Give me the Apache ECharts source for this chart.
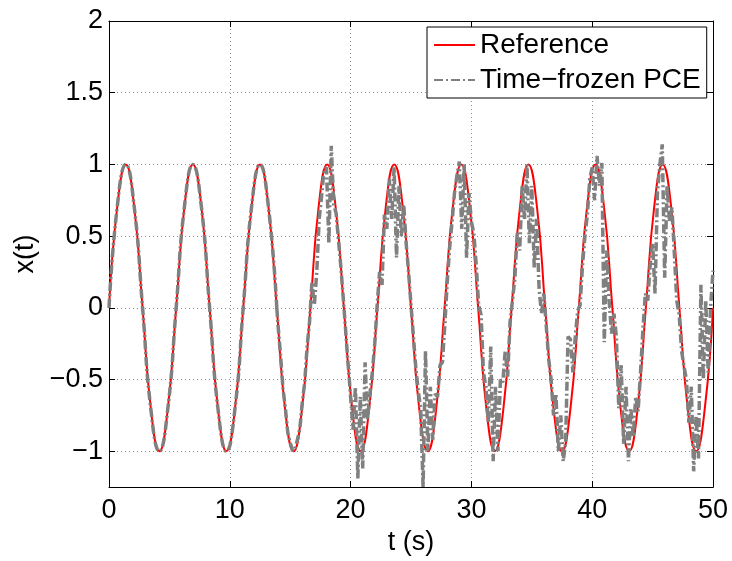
<!DOCTYPE html>
<html>
<head>
<meta charset="utf-8">
<script src="https://cdn.jsdelivr.net/npm/echarts@6/dist/echarts.min.js"></script>
<style>
html,body{margin:0;padding:0;background:#fff;}
#chart{width:732px;height:561px;}
</style>
</head>
<body>
<div id="chart"></div>
<script>
// ---- data ----
const seriesNames = ['Reference', 'Time\u2212frozen PCE'];
const xTicks = [0, 10, 20, 30, 40, 50];
const yTicks = [-1, -0.5, 0, 0.5, 1, 1.5, 2];

// Reference response (red), read at regular instants
const refT = [0, 0.69, 1.39, 2.08, 2.78, 3.47, 4.17, 4.86, 5.56, 6.25, 6.94, 7.64, 8.33, 9.03, 9.72, 10.42,
  11.11, 11.81, 12.5, 13.19, 13.89, 14.58, 15.28, 15.97, 16.67, 17.36, 18.06, 18.75, 19.44, 20.14, 20.83,
  21.53, 22.22, 22.92, 23.61, 24.31, 25.0, 25.69, 26.39, 27.08, 27.78, 28.47, 29.17, 29.86, 30.56, 31.25,
  31.94, 32.64, 33.33, 34.03, 34.72, 35.42, 36.11, 36.81, 37.5, 38.19, 38.89, 39.58, 40.28, 40.97, 41.67,
  42.36, 43.06, 43.75, 44.44, 45.14, 45.83, 46.53, 47.22, 47.92, 48.61, 49.31, 50.0];
const refX = [0, 0.71, 1, 0.71, 0, -0.71, -1, -0.71,
  0, 0.71, 1, 0.71, 0, -0.71, -1, -0.71,
  0, 0.71, 1, 0.71, 0, -0.71, -1, -0.71,
  0, 0.71, 1, 0.71, 0, -0.71, -1, -0.71,
  0, 0.71, 1, 0.71, 0, -0.71, -1, -0.71,
  0, 0.71, 1, 0.71, 0, -0.71, -1, -0.71,
  0, 0.71, 1, 0.71, 0, -0.71, -1, -0.71,
  0, 0.71, 1, 0.71, 0, -0.71, -1, -0.71,
  0, 0.71, 1, 0.71, 0, -0.71, -1, -0.71,
  0];

// Time-frozen PCE: identical to the reference up to t = 13.89 s
const pceEarlyT = [0, 0.69, 1.39, 2.08, 2.78, 3.47, 4.17, 4.86, 5.56, 6.25, 6.94, 7.64, 8.33, 9.03, 9.72,
  10.42, 11.11, 11.81, 12.5, 13.19, 13.89];
const pceEarlyX = [0, 0.71, 1, 0.71, 0, -0.71, -1, -0.71, 0, 0.71, 1, 0.71, 0, -0.71, -1, -0.71,
  0, 0.71, 1, 0.71, 0];

// Time-frozen PCE, sampled every 0.2 s from t = 14 s to 50 s
const pceStart = 14.0;
const pceStep = 0.2;
const pceX = [
  -0.13, -0.33, -0.56, -0.70, -0.87, -0.94, -1.00, -0.98, -0.92, -0.84,
  -0.66, -0.52, -0.27, -0.10, 0.18, 0.02, 0.25, 0.62, 0.78, 0.96,
  0.98, 0.45, 1.13, 0.72, 0.66, 0.47, 0.28, 0.06, -0.17, -0.40,
  -0.62, -0.85, -0.55, -1.19, -0.62, -1.12, -0.38, -0.78, -0.60, -0.45,
  -0.25, 0.02, 0.25, 0.16, 0.65, 0.55, 0.90, 0.62, 0.98, 0.35,
  0.85, 0.50, 0.72, 0.45, 0.25, 0.02, -0.20, -0.42, -0.58, -0.70,
  -1.25, -0.30, -1.00, -0.55, -0.92, -0.60, -0.62, -0.40, -0.38, -0.12,
  0.18, 0.42, 0.60, 0.80, 0.92, 1.02, 0.55, 1.00, 0.35, 0.80,
  0.60, 0.52, 0.30, 0.02, -0.05, -0.45, -0.55, -0.80, -0.27, -1.07,
  -0.55, -1.00, -0.50, -0.52, -0.30, -0.48, -0.10, 0.05, 0.21, 0.53,
  0.40, 0.85, 0.62, 1.00, 0.45, 0.85, 0.28, 0.62, 0.14, -0.04,
  0.10, -0.13, -0.36, -0.50, -0.75, -0.60, -1.00, -0.75, -1.07, -0.94,
  -0.20, -0.22, -0.45, -0.20, -0.02, 0.02, 0.30, 0.50, 0.65, 0.90,
  0.98, 0.75, 1.06, 0.85, 1.01, -0.24, 0.40, 0.05, -0.18, -0.04,
  -0.20, -0.70, -0.40, -0.95, -0.55, -1.07, -0.70, -0.90, -0.62, -0.72,
  -0.45, -0.15, 0.10, 0.05, 0.30, 0.45, 0.10, 0.80, 1.00, 1.14,
  0.21, 0.85, 0.60, 0.70, 0.38, 0.05, -0.05, -0.30, -0.41, -0.50,
  -0.80, -0.55, -1.14, -0.75, -1.05, 0.16, -0.50, 0.05, -0.45, 0.00,
  0.26
];

// ---- chart ----
const FONT = "'Liberation Sans', Arial, Helvetica, sans-serif";
const refData = refT.map((t, i) => [t, refX[i]]);
const earlyData = pceEarlyT.map((t, i) => [t, pceEarlyX[i]]);
const lateData = [[pceEarlyT[pceEarlyT.length - 1], pceEarlyX[pceEarlyX.length - 1]]]
  .concat(pceX.map((v, i) => [+(pceStart + i * pceStep).toFixed(2), v]));

const gridLine = { show: true, lineStyle: { color: '#8c8c8c', type: [1, 3], width: 1 } };
const fmt = v => yTicks.indexOf(v) >= 0 || xTicks.indexOf(v) >= 0 ? String(v).replace('-', '\u2212') : '';

const grayStyle = { color: '#808080', width: 3.5, type: [9, 3, 2, 3], cap: 'butt' };
const frameLine = { show: true, onZero: false, lineStyle: { color: '#000', width: 1 } };
const tickIn = { show: true, inside: true, length: 6, lineStyle: { color: '#000' } };

const chart = echarts.init(document.getElementById('chart'), null, { renderer: 'canvas' });
chart.setOption({
  animation: false,
  backgroundColor: '#fff',
  grid: { left: 109, right: 19, top: 21, bottom: 69, containLabel: false },
  legend: {
    data: seriesNames,
    orient: 'vertical',
    left: 427, top: 27,
    itemWidth: 41, itemHeight: 14, itemGap: 7,
    padding: [4, 6, 4, 6],
    backgroundColor: '#fff', borderColor: '#000', borderWidth: 1, borderRadius: 0,
    itemStyle: { opacity: 0 },
    textStyle: { fontSize: 28, color: '#000', fontFamily: FONT }
  },
  xAxis: [{
    type: 'value', min: 0, max: 50, interval: 10, position: 'bottom',
    name: 't (s)', nameLocation: 'middle', nameGap: 36,
    nameTextStyle: { fontSize: 27, color: '#000', fontFamily: FONT },
    axisLine: frameLine, axisTick: tickIn,
    axisLabel: { fontSize: 27, color: '#000', fontFamily: FONT, margin: 10, formatter: fmt },
    splitLine: gridLine
  }, {
    type: 'value', min: 0, max: 50, interval: 10, position: 'top',
    axisLine: frameLine, axisTick: tickIn,
    axisLabel: { show: false }, splitLine: { show: false }
  }],
  yAxis: [{
    type: 'value', min: -1.25, max: 2, minInterval: 0.5, maxInterval: 0.5, position: 'left',
    name: 'x(t)', nameLocation: 'middle', nameGap: 53,
    nameTextStyle: { fontSize: 27, color: '#000', fontFamily: FONT },
    axisLine: frameLine, axisTick: tickIn,
    axisLabel: { fontSize: 27, color: '#000', fontFamily: FONT, margin: 6, formatter: fmt, showMinLabel: false },
    splitLine: gridLine
  }, {
    type: 'value', min: -1.25, max: 2, minInterval: 0.5, maxInterval: 0.5, position: 'right',
    axisLine: frameLine, axisTick: tickIn,
    axisLabel: { show: false }, splitLine: { show: false }
  }],
  series: [{
    name: seriesNames[0], type: 'line', data: refData, smooth: 0.5, showSymbol: false, symbol: 'none',
    lineStyle: { color: '#ff0000', width: 2 }, itemStyle: { color: '#ff0000' }, z: 2
  }, {
    name: seriesNames[1], type: 'line', data: earlyData, smooth: 0.5, showSymbol: false, symbol: 'none',
    lineStyle: grayStyle, itemStyle: { color: '#808080' }, z: 3
  }, {
    name: seriesNames[1], type: 'line', data: lateData, smooth: false, showSymbol: false, symbol: 'none',
    lineStyle: grayStyle, itemStyle: { color: '#808080' }, z: 3, clip: true
  }]
});
</script>
</body>
</html>
